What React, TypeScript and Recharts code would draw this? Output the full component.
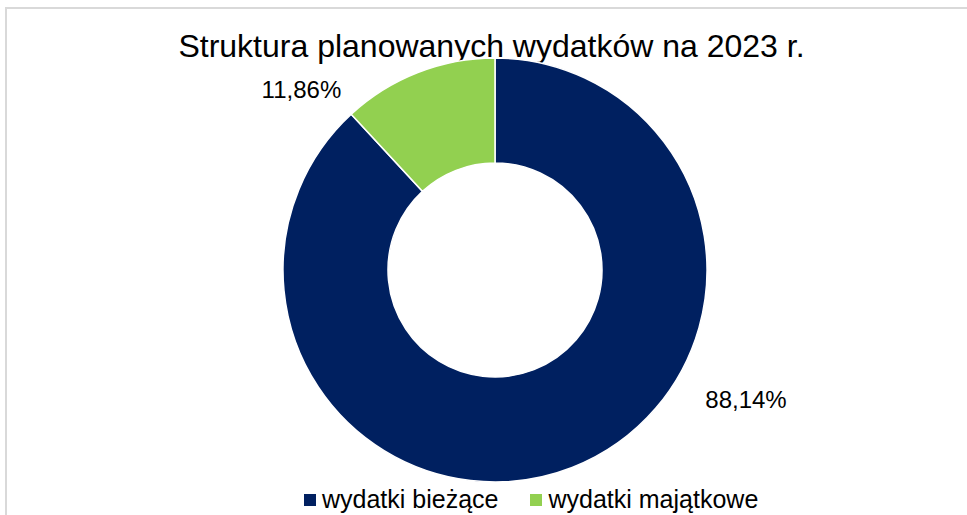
import { Legend, Pie, PieChart, Cell } from "recharts";

const CATEGORIES = ["wydatki bieżące", "wydatki majątkowe"];
const SHARES = [88.14, 11.86];
const COLORS = ["#002060", "#92D050"];
const TITLE = "Struktura planowanych wydatków na 2023 r.";

// label placement (angle in degrees, distance as a multiple of outer radius)
const LABEL_ANGLE = [-28.8, 138.4];
const LABEL_DIST = [1.351, 1.221];

const FONT = '"Liberation Sans", Arial, sans-serif';
const W = 967;
const H = 515;

const data = CATEGORIES.map((name, i) => ({ name, value: SHARES[i] }));
const fmt = (v: number) => v.toFixed(2).replace(".", ",") + "%";

function renderLabel(props: any) {
  const { cx, cy, outerRadius, index, value } = props;
  const a = (LABEL_ANGLE[index] * Math.PI) / 180;
  const r = outerRadius * LABEL_DIST[index];
  return (
    <text
      x={cx + r * Math.cos(a)}
      y={cy - r * Math.sin(a)}
      textAnchor="middle"
      fontSize={24}
      fontFamily={FONT}
      fill="#000"
    >
      {fmt(value)}
    </text>
  );
}

function LegendBox() {
  return (
    <div
      style={{
        position: "absolute",
        left: 304,
        top: 487,
        display: "flex",
        alignItems: "center",
        fontFamily: FONT,
        fontSize: 25,
        lineHeight: "25px",
        color: "#000",
        whiteSpace: "nowrap",
      }}
    >
      {CATEGORIES.map((c, i) => (
        <div key={c} style={{ display: "flex", alignItems: "center", marginRight: 32 }}>
          <span
            style={{ display: "inline-block", width: 12, height: 12, background: COLORS[i], marginRight: 6 }}
          />
          <span>{c}</span>
        </div>
      ))}
    </div>
  );
}

export default function App() {
  return (
    <div
      style={{
        position: "fixed",
        left: 0,
        top: 0,
        width: W,
        height: H,
        background: "#fff",
        overflow: "hidden",
      }}
    >
      <div
        style={{
          position: "absolute",
          left: 5,
          top: 7,
          width: 1100,
          height: 700,
          borderTop: "2px solid #d9d9d9",
          borderLeft: "2px solid #d9d9d9",
        }}
      />
      <div
        style={{
          position: "absolute",
          left: 0,
          width: W,
          top: 30,
          textAlign: "center",
          fontFamily: FONT,
          fontSize: 32,
          lineHeight: "32px",
          color: "#000",
          paddingLeft: 16,
          boxSizing: "border-box",
          whiteSpace: "nowrap",
        }}
      >
        {TITLE}
      </div>
      <div style={{ position: "absolute", left: 0, top: 0 }}>
        <PieChart width={W} height={H} margin={{ top: 0, right: 0, bottom: 0, left: 0 }}>
          <Pie
            data={data}
            dataKey="value"
            nameKey="name"
            cx={495}
            cy={270}
            innerRadius={107}
            outerRadius={212}
            startAngle={90}
            endAngle={-270}
            stroke="#ffffff"
            strokeWidth={1.5}
            label={renderLabel}
            labelLine={false}
            isAnimationActive={false}
          >
            {data.map((_, i) => (
              <Cell key={i} fill={COLORS[i]} />
            ))}
          </Pie>
          <Legend
            content={() => <LegendBox />}
            wrapperStyle={{ position: "absolute", left: 0, top: 0, width: W, height: H }}
          />
        </PieChart>
      </div>
    </div>
  );
}
